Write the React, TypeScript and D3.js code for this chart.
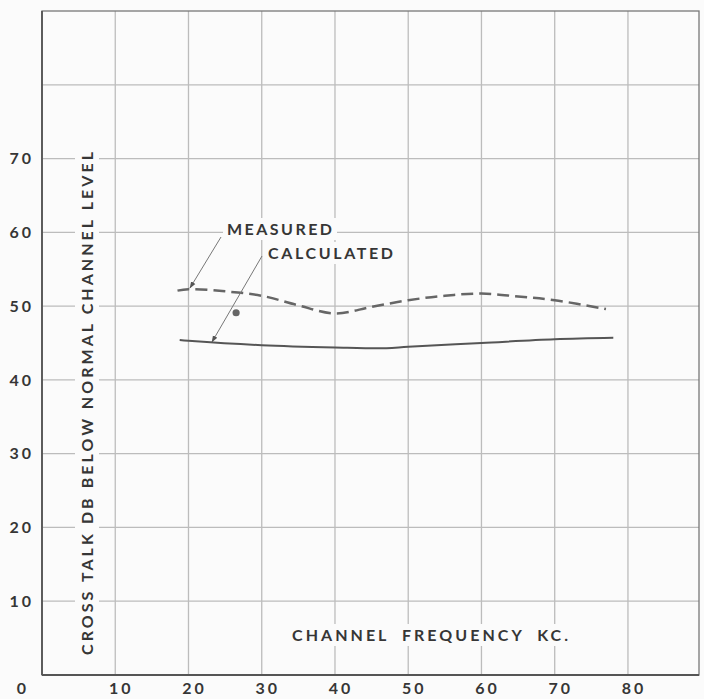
import React from 'react'
import * as d3 from 'd3'

// values
const measuredX = [18.5, 20, 25, 30, 35, 40, 45, 50, 55, 60, 65, 70, 77]
const measuredY = [52.1, 52.3, 52.0, 51.4, 50.1, 49.0, 49.9, 50.8, 51.4, 51.7, 51.3, 50.8, 49.6]
const calculatedX = [18.8, 20, 30, 40, 47, 50, 60, 70, 78]
const calculatedY = [45.4, 45.3, 44.7, 44.4, 44.3, 44.5, 45.0, 45.5, 45.7]
const strayPoint = [26.5, 49.1]
const xTicks = [0, 10, 20, 30, 40, 50, 60, 70, 80]
const yTicks = [10, 20, 30, 40, 50, 60, 70, 80]
const yLabels = [10, 20, 30, 40, 50, 60, 70]

const W = 704
const H = 699
const font = 'Lato, "DejaVu Sans", sans-serif'

export default function App() {
  const x = d3.scaleLinear().domain([0, 89.7]).range([42, 699])
  const y = d3.scaleLinear().domain([0, 90]).range([675, 11])

  const line = d3.line<number>()
    .curve(d3.curveCatmullRom)
  const measured = line(measuredX.map((v, i) => [x(v), y(measuredY[i])] as any) as any)
  const calculated = line(calculatedX.map((v, i) => [x(v), y(calculatedY[i])] as any) as any)

  const ink = '#363636'
  const grid = '#bcbcbc'
  const bg = '#fbfbfb'
  const fs = 16

  return (
    <div style={{ position: 'absolute', left: 0, top: 0 }}>
      <svg width={W} height={H} style={{ display: 'block', background: bg }}>
        <defs>
          <marker id="arr" viewBox="0 0 10 10" refX="9" refY="5" markerWidth="7" markerHeight="7" orient="auto">
            <path d="M0,1.5 L10,5 L0,8.5 z" fill="#555" />
          </marker>
        </defs>
        {/* grid */}
        {xTicks.slice(1).map(t => (
          <line key={'gx' + t} x1={x(t)} x2={x(t)} y1={y(90)} y2={y(0)} stroke={grid} strokeWidth={1.3} />
        ))}
        {yTicks.map(t => (
          <line key={'gy' + t} x1={x(0)} x2={x(89.7)} y1={y(t)} y2={y(t)} stroke={grid} strokeWidth={1.3} />
        ))}
        {/* frame */}
        <rect x={x(0)} y={y(90)} width={x(89.7) - x(0)} height={y(0) - y(90)} fill="none" stroke="#777" strokeWidth={1.3} />
        <line x1={x(0)} x2={x(0)} y1={y(90)} y2={y(0)} stroke="#555" strokeWidth={1.8} />
        <line x1={x(0)} x2={x(89.7)} y1={y(0)} y2={y(0)} stroke="#555" strokeWidth={1.8} />

        {/* tick labels */}
        {yLabels.map(t => (
          <text key={'yl' + t} x={34} y={y(t)} dy="0.36em" textAnchor="end" fontFamily={font} fontWeight={700}
            fontSize={fs} letterSpacing={3} fill={ink}>{t}</text>
        ))}
        {xTicks.map(t => (
          <text key={'xl' + t} x={t === 0 ? 23 : x(t) + 6} y={688} dy="0.36em" textAnchor="middle" fontFamily={font} fontWeight={700}
            fontSize={fs} letterSpacing={3} fill={ink}>{t}</text>
        ))}

        {/* axis titles */}
        <g transform={`translate(${87},${403.5}) rotate(-90)`}>
          <rect x={-254} y={-12} width={508} height={24} fill={bg} />
          <text x={-251.5} y={0} dy="0.36em" fontFamily={font} fontSize={fs} fontWeight={700}
            textLength={503} lengthAdjust="spacing" fill={ink}>CROSS TALK DB BELOW NORMAL CHANNEL LEVEL</text>
        </g>
        <rect x={287} y={624} width={284} height={22} fill={bg} />
        <text x={292} y={635} dy="0.36em" fontFamily={font} fontSize={fs} fontWeight={700}
          textLength={276} lengthAdjust="spacing" fill={ink} style={{ wordSpacing: '6px' }}>CHANNEL FREQUENCY KC.</text>

        {/* curves */}
        <path d={measured || ''} fill="none" stroke="#666" strokeWidth={2.5} strokeDasharray="12 6" />
        <path d={calculated || ''} fill="none" stroke="#555" strokeWidth={2} />
        <circle cx={x(strayPoint[0])} cy={y(strayPoint[1])} r={3.6} fill="#666" />

        {/* annotations */}
        <rect x={223} y={218} width={114} height={22} fill={bg} />
        <text x={227} y={229} dy="0.36em" fontFamily={font} fontSize={fs} fontWeight={700}
          textLength={105} lengthAdjust="spacing" fill={ink}>MEASURED</text>
        <line x1={221} y1={237} x2={190} y2={288} stroke="#777" strokeWidth={1} markerEnd="url(#arr)" />
        <rect x={265} y={242} width={132} height={22} fill={bg} />
        <text x={268} y={253} dy="0.36em" fontFamily={font} fontSize={fs} fontWeight={700}
          textLength={125} lengthAdjust="spacing" fill={ink}>CALCULATED</text>
        <line x1={262} y1={256} x2={212} y2={342} stroke="#777" strokeWidth={1} markerEnd="url(#arr)" />
      </svg>
    </div>
  )
}
